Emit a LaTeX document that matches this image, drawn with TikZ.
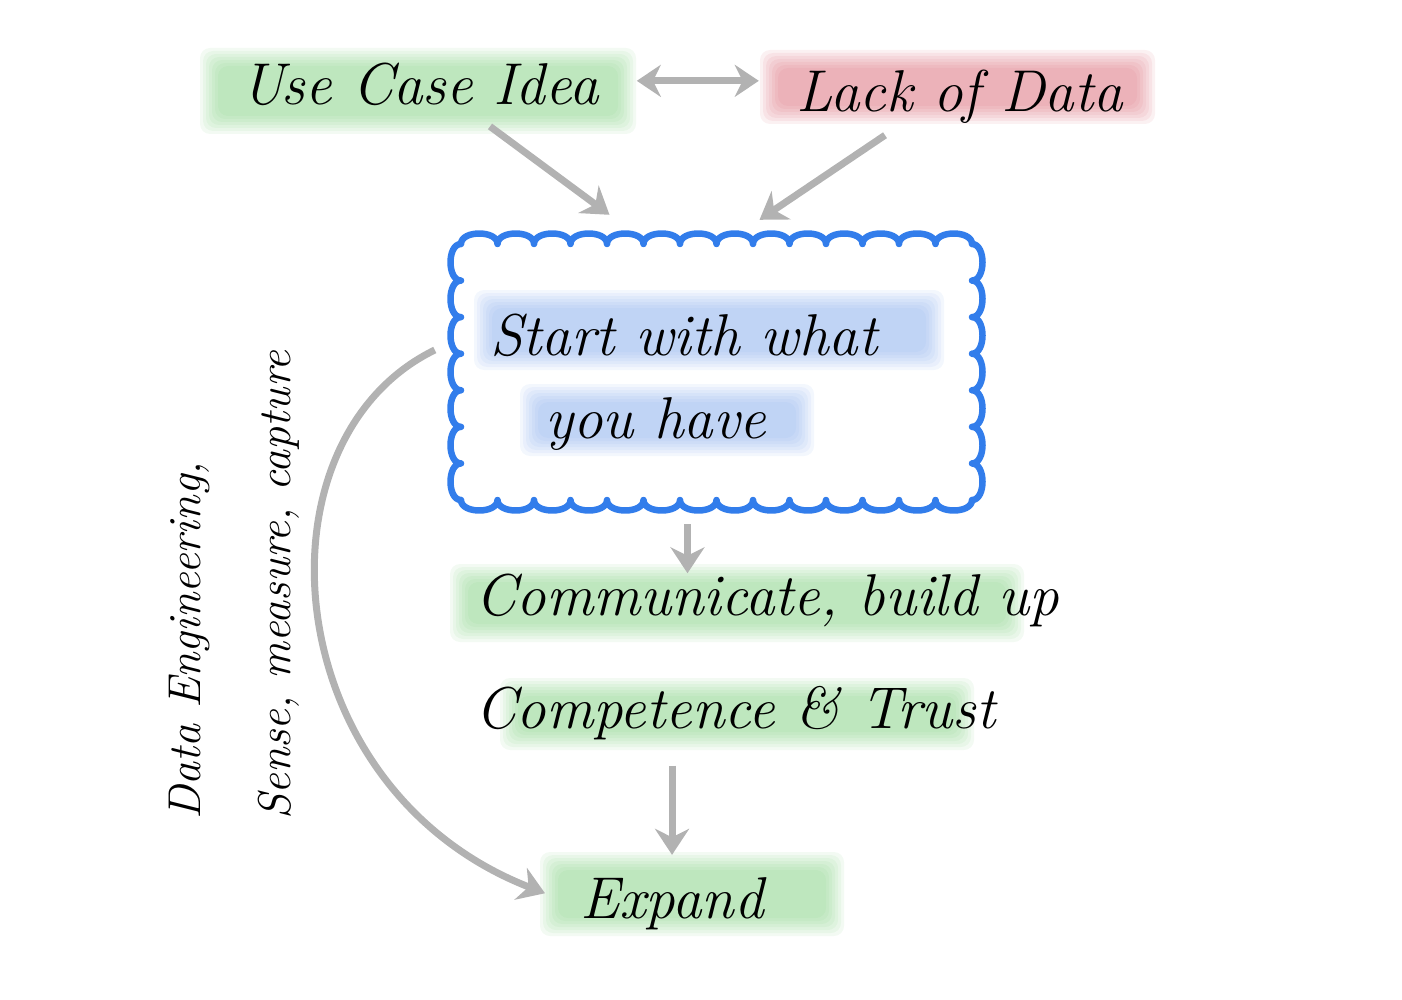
\documentclass[tikz,border=0pt]{standalone}
\usepackage{fontspec}
\usetikzlibrary{arrows.meta,calc}
\definecolor{hlgreen}{RGB}{120,205,120}
\definecolor{hlred}{RGB}{215,95,110}
\definecolor{hlblue}{RGB}{125,165,235}
\definecolor{cloudblue}{RGB}{50,125,235}
\definecolor{arrowgray}{RGB}{178,178,178}
\newcommand\hlbox[5]{\foreach \d in {0,3,...,18}{\fill[#1] (#2+\d,#3+\d) rectangle (#4-\d,#5-\d);}}
\begin{document}
\begin{tikzpicture}[x=1pt,y=-1pt,
  txt/.style={font=\fontsize{59}{70}\selectfont\itshape, inner sep=0pt, text=black},
  side/.style={font=\fontsize{46}{56}\selectfont\itshape, inner sep=0pt, text=black, rotate=90, anchor=base west},
  conn/.style={draw=arrowgray, line width=7pt, -{Stealth[length=26pt,width=34pt]}},
  dconn/.style={draw=arrowgray, line width=7pt, {Stealth[length=24pt,width=32pt]}-{Stealth[length=24pt,width=32pt]}},
  hg/.style={fill=hlgreen, opacity=0.09, rounded corners=10pt},
  hr/.style={fill=hlred, opacity=0.09, rounded corners=10pt},
  hb/.style={fill=hlblue, opacity=0.09, rounded corners=10pt},
  cloudline/.style={draw=cloudblue, line width=6.5pt, line join=round, line cap=round},
  cloudbox/.style={minimum width=511pt, minimum height=256pt, inner sep=0pt},
]
\useasboundingbox (0,0) rectangle (1402,1000);
% highlights
\hlbox{hg}{200}{48}{636}{134}
\hlbox{hr}{760}{50}{1155}{124}
\hlbox{hb}{474}{290}{944}{370}
\hlbox{hb}{520}{384}{814}{456}
\hlbox{hg}{450}{564}{1024}{642}
\hlbox{hg}{500}{678}{974}{750}
\hlbox{hg}{540}{852}{844}{936}
% cloud
\node[cloudbox] (start) at (716.5,372) {};
\draw[cloudline] (461,244)
  \foreach \i in {1,...,14}{ .. controls (461+36.5*\i-36.5,230) and (461+36.5*\i,230) .. (461+36.5*\i,244) }
  \foreach \i in {1,...,7}{ .. controls (986,244+256/7*\i-256/7) and (986,244+256/7*\i) .. (972,244+256/7*\i) }
  \foreach \i in {1,...,14}{ .. controls (972-36.5*\i+36.5,514) and (972-36.5*\i,514) .. (972-36.5*\i,500) }
  \foreach \i in {1,...,7}{ .. controls (447,500-256/7*\i+256/7) and (447,500-256/7*\i) .. (461,500-256/7*\i) }
  -- cycle;
% text nodes
\node[txt, anchor=base] (usecase) at (420,105) {Use Case Idea};
\node[txt, anchor=base] (lack) at (960,112) {Lack of Data};
\node[txt, anchor=base west] (startA) at (490,355) {Start with what};
\node[txt, anchor=base west] (startB) at (545,438) {you have};
\node[txt, anchor=base west] (commA) at (475,615) {Communicate, build up};
\node[txt, anchor=base west] (commB) at (475,728) {Competence \& Trust};
\node[txt, anchor=base west] (expand) at (580,918) {Expand};
\node[side] (engA) at (200,820) {Data Engineering,};
\node[side] (engB) at (290,820) {Sense, measure, capture};
% connectors
\coordinate (d1) at ($(usecase.east)+(38,-4)$);
\coordinate (d2) at ($(lack.west)+(-38,0)$);
\draw[dconn] (d1) -- (d1 -| d2);
\draw[conn] ($(usecase.south)+(70,20)$) -- ($(start.north)+(-107,-29)$);
\draw[conn] ($(lack.south)+(-75,11)$) -- ($(start.north)+(43,-24)$);
\coordinate (v1) at ($(start.south)+(-29,24)$);
\draw[conn] (v1) -- (v1 |- commA.north);
\coordinate (v2) at ($(expand.north |- commB.south)+(0,26)$);
\draw[conn] (v2) -- ($(v2 |- expand.north)+(0,-22)$);
\draw[conn] ($(start.west)+(-26,-22)$) .. controls +(-185,90) and +(-270,-105) .. ($(expand.west)+(-35,-10)$);
\end{tikzpicture}
\end{document}
